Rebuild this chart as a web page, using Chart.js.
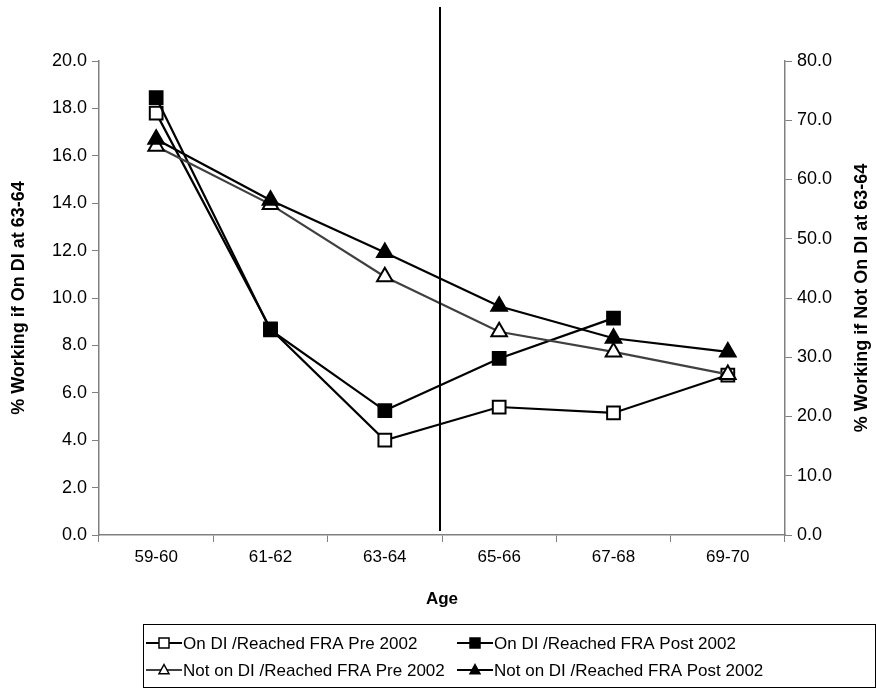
<!DOCTYPE html>
<html>
<head>
<meta charset="utf-8">
<script src="https://cdn.jsdelivr.net/npm/chart.js@4.4.1/dist/chart.umd.min.js"></script>
<style>
  html, body { margin: 0; padding: 0; background: #fff; }
  #wrap { width: 877px; height: 692px; position: relative; }
</style>
</head>
<body>
<div id="wrap"><canvas id="ageChart"></canvas></div>
<script>
// Age groups on the x axis
const ageGroups = ['59-60', '61-62', '63-64', '65-66', '67-68', '69-70'];
// the vertical divider sits just after this group
const dividerAfter = '63-64';

// % working if on DI at 63-64 (left axis)
const onDiPre2002 = [17.8, 8.7, 4.0, 5.4, 5.15, 6.75];
const onDiPost2002 = [18.45, 8.65, 5.25, 7.45, 9.15, null];

// % working if not on DI at 63-64 (right axis)
const notDiPre2002 = [65.6, 55.8, 43.6, 34.3, 30.9, 27.1];
const notDiPost2002 = [66.8, 56.5, 47.7, 38.6, 33.2, 30.9];

// tick labels
const leftTickLabels = ['0.0', '2.0', '4.0', '6.0', '8.0', '10.0', '12.0', '14.0', '16.0', '18.0', '20.0'];
const rightTickLabels = ['0.0', '10.0', '20.0', '30.0', '40.0', '50.0', '60.0', '70.0', '80.0'];

const FONT = 'Arial, "Liberation Sans", sans-serif';
const AXIS_GREY = '#808080';
Chart.defaults.font.family = FONT;
Chart.defaults.color = '#000';

const setTicks = labels => scale => {
  scale.ticks = labels.map(t => ({ value: parseFloat(t) }));
};

// vertical line between 63-64 and 65-66
const dividerLine = {
  id: 'dividerLine',
  afterDatasetsDraw(chart) {
    const idx = ageGroups.indexOf(dividerAfter) + 0.5;
    const x = Math.round(chart.scales.x.getPixelForValue(idx)) - 2;
    const ctx = chart.ctx;
    ctx.save();
    ctx.strokeStyle = '#000';
    ctx.lineWidth = 2;
    ctx.beginPath();
    ctx.moveTo(x, 7);
    ctx.lineTo(x, chart.chartArea.bottom - 4);
    ctx.stroke();
    ctx.restore();
  }
};

// right axis title reads bottom-to-top like the left one
const rightTitle = {
  id: 'rightTitle',
  afterDraw(chart) {
    const s = chart.scales.yRight;
    const ctx = chart.ctx;
    ctx.save();
    ctx.translate(s.right - 15, (chart.chartArea.top + chart.chartArea.bottom) / 2);
    ctx.rotate(-Math.PI / 2);
    ctx.font = 'bold 18px ' + FONT;
    ctx.fillStyle = '#000';
    ctx.textAlign = 'center';
    ctx.textBaseline = 'middle';
    ctx.fillText(s.options.title.text, 0, 0);
    ctx.restore();
  }
};

function marker(ctx, style, x, y, r) {
  ctx.beginPath();
  if (style === 'rect') {
    ctx.rect(x - r, y - r, r * 2, r * 2);
  } else {
    ctx.moveTo(x, y - r * 1.1);
    ctx.lineTo(x + r, y + r * 0.75);
    ctx.lineTo(x - r, y + r * 0.75);
    ctx.closePath();
  }
  ctx.fill();
  ctx.stroke();
}

// boxed two-column legend under the axis title
const boxLegend = {
  id: 'boxLegend',
  afterDraw(chart) {
    const ctx = chart.ctx;
    ctx.save();
    ctx.strokeStyle = '#000';
    ctx.lineWidth = 1;
    ctx.strokeRect(143.5, 624.5, 732, 63);
    const cols = [146, 457];
    const rows = [643, 670];
    ctx.font = '17px ' + FONT;
    ctx.textBaseline = 'middle';
    chart.data.datasets.forEach((ds, i) => {
      const x = cols[i % 2];
      const y = rows[Math.floor(i / 2)];
      ctx.strokeStyle = ds.borderColor;
      ctx.lineWidth = 2;
      ctx.beginPath();
      ctx.moveTo(x, y);
      ctx.lineTo(x + 36, y);
      ctx.stroke();
      ctx.fillStyle = ds.pointBackgroundColor;
      ctx.strokeStyle = ds.pointBorderColor;
      ctx.lineWidth = 1.5;
      marker(ctx, ds.pointStyle, x + 18, y, 5);
      ctx.fillStyle = '#000';
      ctx.fillText(ds.label, x + 37, y + 1);
    });
    ctx.restore();
  }
};

const ctx = document.getElementById('ageChart').getContext('2d');

new Chart(ctx, {
  type: 'line',
  data: {
    labels: ageGroups,
    datasets: [
      {
        label: 'On DI /Reached FRA Pre 2002',
        data: onDiPre2002,
        yAxisID: 'yLeft',
        borderColor: '#000',
        pointStyle: 'rect',
        pointBackgroundColor: '#fff',
        pointBorderColor: '#000',
        pointRadius: 9,
        order: 3
      },
      {
        label: 'On DI /Reached FRA Post 2002',
        data: onDiPost2002,
        yAxisID: 'yLeft',
        borderColor: '#000',
        pointStyle: 'rect',
        pointBackgroundColor: '#000',
        pointBorderColor: '#000',
        pointRadius: 9,
        order: 2
      },
      {
        label: 'Not on DI /Reached FRA Pre 2002',
        data: notDiPre2002,
        yAxisID: 'yRight',
        borderColor: '#404040',
        pointStyle: 'triangle',
        pointBackgroundColor: '#fff',
        pointBorderColor: '#000',
        pointRadius: 9,
        order: 1
      },
      {
        label: 'Not on DI /Reached FRA Post 2002',
        data: notDiPost2002,
        yAxisID: 'yRight',
        borderColor: '#000',
        pointStyle: 'triangle',
        pointBackgroundColor: '#000',
        pointBorderColor: '#000',
        pointRadius: 9,
        order: 0
      }
    ]
  },
  options: {
    responsive: true,
    maintainAspectRatio: false,
    animation: false,
    layout: { padding: { top: 61, right: 0, bottom: 78, left: 0 } },
    elements: {
      line: { borderWidth: 2.2, tension: 0 },
      point: { borderWidth: 2, hoverRadius: 9 }
    },
    plugins: {
      legend: { display: false },
      tooltip: { enabled: false }
    },
    scales: {
      x: {
        offset: true,
        grid: { offset: true, drawOnChartArea: false, color: AXIS_GREY, tickLength: 7 },
        border: { color: AXIS_GREY, width: 1.5 },
        ticks: { font: { size: 17 }, padding: 5, maxRotation: 0 },
        title: { display: true, text: 'Age', font: { size: 17, weight: 'bold' }, padding: { top: 4, bottom: 4 } },
        afterFit: s => { s.height = 79; }
      },
      yLeft: {
        position: 'left',
        min: 0,
        max: 20,
        afterBuildTicks: setTicks(leftTickLabels),
        grid: { drawOnChartArea: false, color: AXIS_GREY, tickLength: 7 },
        border: { color: AXIS_GREY, width: 1.5 },
        ticks: { font: { size: 18 }, padding: 5, callback: v => v.toFixed(1) },
        title: { display: true, text: '% Working if On DI at 63-64', font: { size: 18, weight: 'bold' }, padding: { top: 8, bottom: 4 } },
        afterFit: s => { s.width = 99; }
      },
      yRight: {
        position: 'right',
        min: 0,
        max: 80,
        afterBuildTicks: setTicks(rightTickLabels),
        grid: { drawOnChartArea: false, color: AXIS_GREY, tickLength: 7 },
        border: { color: AXIS_GREY, width: 1.5 },
        ticks: { font: { size: 18 }, padding: 5, callback: v => v.toFixed(1) },
        title: { display: false, text: '% Working if Not On DI at 63-64' },
        afterFit: s => { s.width = 92; }
      }
    }
  },
  plugins: [dividerLine, rightTitle, boxLegend]
});
</script>
</body>
</html>
